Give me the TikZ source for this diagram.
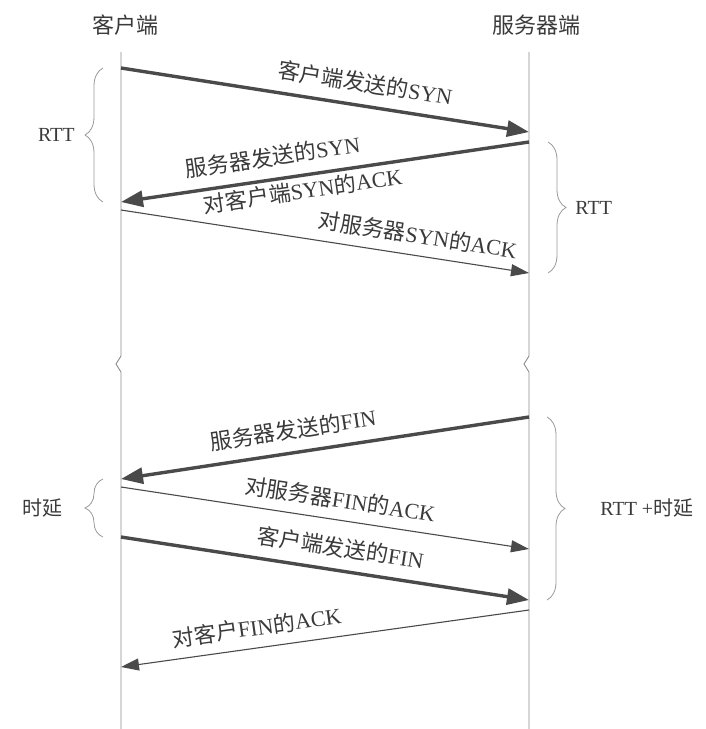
\documentclass[tikz,border=0pt]{standalone}
\usepackage{fontspec}
\setmainfont{Liberation Serif}
\newfontfamily\cjk{Noto Sans CJK SC}
\usetikzlibrary{arrows.meta,decorations.pathreplacing}

\begin{document}
\begin{tikzpicture}[x=1pt, y=1pt,
  hdr/.style={font=\cjk\fontsize{22}{24}\selectfont, text=txtC},
  life/.style={line width=0.9pt, draw=lifeC},
  msgbold/.style={line width=3.4pt, draw=msgC, -{Triangle[length=22pt,width=16pt]}},
  msgthin/.style={line width=1.1pt, draw=msgC, -{Triangle[length=18pt,width=12pt]}},
  lbl/.style={font=\fontsize{22}{24}\selectfont, text=txtC, sloped, inner sep=2pt},
  brc/.style={decorate, decoration={brace, amplitude=18pt}, line width=0.8pt, draw=brcC},
  side/.style={font=\fontsize{20}{22}\selectfont, text=txtC, inner sep=0pt},
]
\definecolor{txtC}{HTML}{3A3A3A}\definecolor{msgC}{HTML}{4A4A4A}
\definecolor{lifeC}{HTML}{8A8A8A}\definecolor{brcC}{HTML}{9A9A9A}
\useasboundingbox (0,0) rectangle (705,-729);
% headers
\node[hdr] (cli) at (125,-25) {客户端};
\node[hdr] (srv) at (536,-25) {服务器端};
% ---- lifelines ----
\coordinate (cliTop) at (121,-52); \coordinate (cliBrk) at (121,-356); \coordinate (cliBot) at (121,-729);
\coordinate (srvTop) at (529,-52); \coordinate (srvBrk) at (529,-356); \coordinate (srvBot) at (529,-729);
\draw[life] (cliTop) -- (cliBrk) -- ++(-5,-8) -- ++(5,-8) -- (cliBot);
\draw[life] (srvTop) -- (srvBrk) -- ++(-5,-8) -- ++(5,-8) -- (srvBot);
% message ends
\coordinate (c1) at (121,-68);  \coordinate (s1) at (529,-132);
\coordinate (s2) at (529,-142); \coordinate (c2) at (121,-202);
\coordinate (c3) at (121,-210); \coordinate (s3) at (529,-273);
\coordinate (s5) at (529,-417); \coordinate (c5) at (121,-479);
\coordinate (c6) at (121,-487); \coordinate (s6) at (529,-549);
\coordinate (c7) at (121,-537); \coordinate (s7) at (529,-600);
\coordinate (s8) at (529,-610); \coordinate (c8) at (121,-667);
% ---- connection setup ----
\draw[msgbold] (c1) -- (s1) node[lbl, pos=.59, above=9pt] {{\cjk 客户端发送的}SYN};
\draw[msgbold] (s2) -- (c2) node[lbl, pos=.62, above=9pt] {{\cjk 服务器发送的}SYN}
                            node[lbl, pos=.56, below=1pt] {{\cjk 对客户端}SYN{\cjk 的}ACK};
\draw[msgthin] (c3) -- (s3) node[lbl, pos=.72, above=8pt] {{\cjk 对服务器}SYN{\cjk 的}ACK};
% ---- connection release ----
\draw[msgbold] (s5) -- (c5) node[lbl, pos=.57, above=9pt] {{\cjk 服务器发送的}FIN};
\draw[msgthin] (c6) -- (s6) node[lbl, pos=.53, above=8pt] {{\cjk 对服务器}FIN{\cjk 的}ACK};
\draw[msgbold] (c7) -- (s7) node[lbl, pos=.53, above=9pt] {{\cjk 客户端发送的}FIN};
\draw[msgthin] (s8) -- (c8) node[lbl, pos=.66, above=8pt] {{\cjk 对客户}FIN{\cjk 的}ACK};
% ---- braces ----
\draw[brc] ([xshift=-18pt]c2) -- ([xshift=-18pt]c1) node[side, midway, left=28pt] {RTT};
\draw[brc] ([xshift=19pt]s2) -- ([xshift=19pt]s3) node[side, midway, right=27pt] {RTT};
\draw[brc] ([xshift=-18pt]c7) -- ([xshift=-18pt]c5) node[side, midway, left=40pt] {\cjk 时延};
\draw[brc] ([xshift=18pt]s5) -- ([xshift=18pt]s7) node[side, midway, right=53pt] {RTT +{\cjk 时延}};
\end{tikzpicture}
\end{document}
